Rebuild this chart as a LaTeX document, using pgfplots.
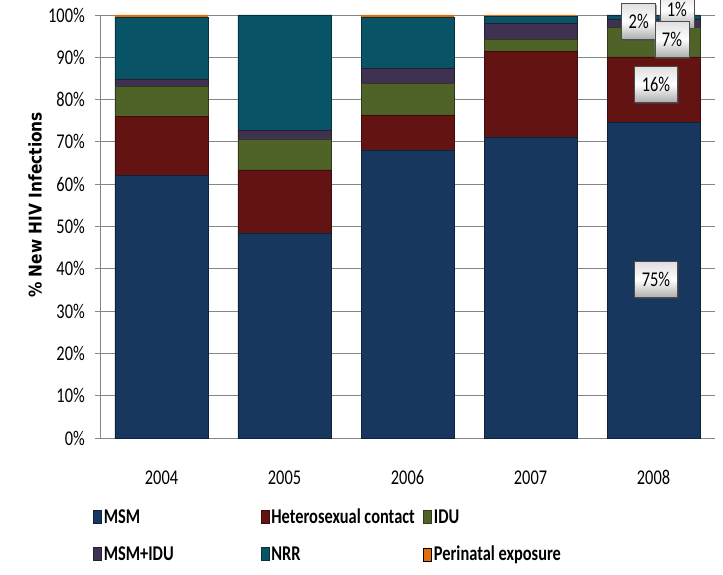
\documentclass[border=0pt]{standalone}
\usepackage{pgfplots}
\pgfplotsset{compat=1.18}
\usepackage{fontspec}
\setmainfont{Carlito}[FakeStretch=0.78]
\newfontfamily\labfont{DejaVu Sans}[FakeStretch=0.88]
\usetikzlibrary{shadows}

\definecolor{cMSM}{RGB}{23,55,94}
\definecolor{cHet}{RGB}{99,20,18}
\definecolor{cIDU}{RGB}{79,98,40}
\definecolor{cMI}{RGB}{63,49,81}
\definecolor{cNRR}{RGB}{8,84,102}
\definecolor{cPer}{RGB}{228,108,10}
\definecolor{gridc}{RGB}{134,134,134}

\begin{document}
\begin{tikzpicture}[
  lbl/.style={draw=black!70, line width=0.7bp, top color=gray!25, bottom color=gray!65,
    middle color=white, inner xsep=7bp, minimum height=36bp,
    font=\fontsize{21bp}{24bp}\selectfont,
    drop shadow={shadow xshift=1.5bp, shadow yshift=-1.5bp, fill=black!70}}
]
\begin{axis}[
  scale only axis, width=615bp, height=423bp,
  ybar stacked, bar width=93bp,
  xmin=-0.5, xmax=4.5, ymin=0, ymax=100,
  xtick={0,...,4}, xticklabels={2004,2005,2006,2007,2008},
  ytick={0,10,...,100},
  yticklabel={\pgfmathprintnumber{\tick}\%},
  /pgf/number format/assume math mode=true,
  axis lines*=left,
  axis line style={gridc, line width=0.8bp, -},
  xtick style={draw=none},
  ytick style={gridc, line width=0.8bp},
  tick align=outside, major tick length=5bp,
  ymajorgrids, major grid style={gridc, line width=0.8bp},
  ticklabel style={font=\fontsize{21bp}{24bp}\selectfont},
  xticklabel style={inner sep=0pt, text height=13bp, anchor=north},
  xticklabel shift=28bp,
  yticklabel style={inner sep=0pt},
  yticklabel shift=10bp,
  ylabel={\% New HIV Infections},
  ylabel style={font=\labfont\bfseries\fontsize{17.5bp}{20bp}\selectfont,
    at={(axis description cs:-0.1057,0.551)}, anchor=center},
  legend columns=3,
  legend style={at={(axis description cs:-0.0114,-0.170)}, anchor=north west,
    draw=none, fill=none, inner sep=0pt, row sep=20bp,
    cells={anchor=base west},
    nodes={inner sep=0pt, text height=13bp, text depth=4bp},
    font=\bfseries\fontsize{21bp}{24bp}\selectfont},
  legend image code/.code={\draw[#1] (0bp,0bp) rectangle (8bp,13bp); \path (10bp,0bp);},
  clip=false,
]
\coordinate (SW) at (rel axis cs:0,0);
\coordinate (NE) at (rel axis cs:1,1);

\addplot[fill=cMSM, draw=cMSM!60!black, line width=0.6bp]
  coordinates {(0,62.0) (1,48.5) (2,68.1) (3,71.2) (4,74.7)};
\addlegendentry{\makebox[157bp][l]{MSM}}
\addplot[fill=cHet, draw=cHet!60!black, line width=0.6bp]
  coordinates {(0,14.0) (1,14.9) (2,8.3) (3,20.1) (4,15.4)};
\addlegendentry{\makebox[152bp][l]{Heterosexual contact}}
\addplot[fill=cIDU, draw=cIDU!60!black, line width=0.6bp]
  coordinates {(0,7.1) (1,7.3) (2,7.5) (3,3.0) (4,7.0)};
\addlegendentry{IDU}
\addplot[fill=cMI, draw=cMI!60!black, line width=0.6bp]
  coordinates {(0,1.6) (1,2.1) (2,3.6) (3,3.8) (4,1.9)};
\addlegendentry{\makebox[157bp][l]{MSM+IDU}}
\addplot[fill=cNRR, draw=cNRR!60!black, line width=0.6bp]
  coordinates {(0,14.8) (1,27.2) (2,12.0) (3,1.5) (4,1.0)};
\addlegendentry{\makebox[152bp][l]{NRR}}
\addplot[fill=cPer, draw=none]
  coordinates {(0,0.5) (1,0) (2,0.5) (3,0.4) (4,0)};
\addlegendentry{Perinatal exposure}

% callout positions for the 2008 bar
\coordinate (L75) at (axis cs:4.02,37.4);
\coordinate (L16) at (axis cs:4.02,83.6);
\coordinate (L2) at (axis cs:3.88,98.5);
\coordinate (L1) at (axis cs:4.19,101.2);
\coordinate (L7) at (axis cs:4.15,94.3);
\end{axis}
\node[lbl] at (L75) {75\%};
\node[lbl] at (L16) {16\%};
\node[lbl] at (L2) {2\%};
\node[lbl] at (L1) {1\%};
\node[lbl] at (L7) {7\%};
\pgfresetboundingbox
\path[use as bounding box] ([shift={(-100bp,-137bp)}]SW) rectangle ([shift={(8bp,15bp)}]NE);
\end{tikzpicture}
\end{document}
